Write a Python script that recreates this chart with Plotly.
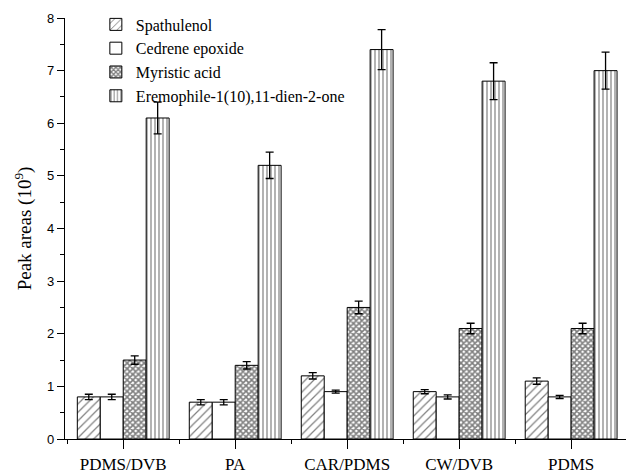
import plotly.graph_objects as go

categories = ["PDMS/DVB", "PA", "CAR/PDMS", "CW/DVB", "PDMS"]
series_names = ["Spathulenol", "Cedrene epoxide", "Myristic acid", "Eremophile-1(10),11-dien-2-one"]
spathulenol = [0.8, 0.7, 1.2, 0.9, 1.1]
spathulenol_err = [0.05, 0.05, 0.06, 0.04, 0.06]
cedrene = [0.8, 0.7, 0.9, 0.8, 0.8]
cedrene_err = [0.05, 0.05, 0.03, 0.04, 0.03]
myristic = [1.5, 1.4, 2.5, 2.1, 2.1]
myristic_err = [0.08, 0.07, 0.12, 0.1, 0.1]
eremophile = [6.1, 5.2, 7.4, 6.8, 7.0]
eremophile_err = [0.3, 0.25, 0.38, 0.35, 0.35]
y_ticks = [0, 1, 2, 3, 4, 5, 6, 7, 8]

values = [spathulenol, cedrene, myristic, eremophile]
errors = [spathulenol_err, cedrene_err, myristic_err, eremophile_err]
patterns = [
    dict(shape="/", size=6, solidity=0.2, fgcolor="black", bgcolor="white"),
    dict(shape="", fgcolor="black", bgcolor="white"),
    dict(shape="x", size=4, solidity=0.65, fgcolor="black", bgcolor="white"),
    dict(shape="|", size=4, solidity=0.3, fgcolor="black", bgcolor="white"),
]

x_pos = list(range(len(categories)))
fig = go.Figure()
for name, v, e, p in zip(series_names, values, errors, patterns):
    fig.add_trace(go.Bar(
        x=x_pos, y=v, name=name,
        marker=dict(color="white", line=dict(color="black", width=1), pattern=p),
        error_y=dict(type="data", array=e, visible=True, color="black", thickness=1.3, width=4),
    ))

serif = "Liberation Serif"
fig.update_layout(
    width=629, height=474,
    margin=dict(l=65, r=3, t=18, b=35),
    plot_bgcolor="white", paper_bgcolor="white",
    barmode="group", bargap=0.18, bargroupgap=0,
    showlegend=True,
    legend=dict(x=0.055, y=1.025, xanchor="left", yanchor="top",
                font=dict(family=serif, size=16, color="black"),
                bgcolor="rgba(0,0,0,0)", tracegroupgap=0),
    xaxis=dict(
        range=[-0.52, 4.49], tickvals=x_pos, ticktext=categories,
        showline=True, linecolor="black", linewidth=1.2, mirror=False,
        ticks="outside", ticklen=9, tickcolor="black", tickwidth=1,
        minor=dict(tick0=0.5, dtick=1, ticks="outside", ticklen=4, tickcolor="black"),
        tickfont=dict(family=serif, size=17, color="black"),
        showgrid=False, zeroline=False, automargin=False,
    ),
    yaxis=dict(
        range=[0, 8], tickvals=y_ticks,
        showline=True, linecolor="black", linewidth=1.2,
        ticks="outside", ticklen=7, tickcolor="black", tickwidth=1,
        minor=dict(dtick=0.5, ticks="outside", ticklen=4, tickcolor="black"),
        tickfont=dict(family="Liberation Sans", size=13, color="black"),
        title=dict(text="Peak areas (10<sup>9</sup>)", font=dict(family=serif, size=19, color="black"), standoff=10),
        showgrid=False, zeroline=False, automargin=False,
    ),
)

fig.write_html("out.html")
